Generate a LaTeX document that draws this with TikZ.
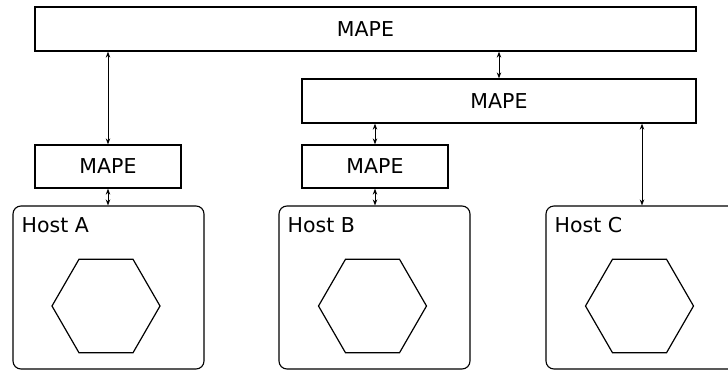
\documentclass[tikz,border=0pt]{standalone}
\usepackage{fontspec}
\setmainfont{DejaVu Sans}
\usetikzlibrary{shapes.geometric,arrows.meta}
\begin{document}
\begin{tikzpicture}[x=1pt,y=-1pt,
  font=\fontsize{20.5}{24}\selectfont,
  mape/.style={draw,line width=1.3pt,inner sep=0pt,minimum height=44pt},
  host/.style={draw,line width=1.1pt,rounded corners=8pt,inner sep=0pt,
    minimum width=191pt,minimum height=163pt},
  hex/.style={draw,line width=1.2pt,regular polygon,regular polygon sides=6,
    inner sep=0pt,minimum size=108pt},
  hostlabel/.style={anchor=base west,inner sep=0pt},
  link/.style={line width=0.9pt,{Stealth[length=6pt,width=4.5pt]}-{Stealth[length=6pt,width=4.5pt]}}]
\clip (0,0) rectangle (728,370);

% MAPE loops
\node[mape,minimum width=661pt] (top) at (365.5,29) {MAPE};
\node[mape,minimum width=394pt] (mid) at (499,101) {MAPE};
\node[mape,minimum width=146pt,minimum height=43pt] (mA) at (108,166.5) {MAPE};
\node[mape,minimum width=146pt,minimum height=43pt] (mB) at (375,166.5) {MAPE};

% managed hosts
\node[host] (hostA) at (108.5,287.5) {};
\node[host] (hostB) at (374.5,287.5) {};
\node[host] (hostC) at (641.5,287.5) {};
\node[hostlabel] (labA) at ([shift={(9,27)}]hostA.north west) {Host A};
\node[hostlabel] (labB) at ([shift={(9,27)}]hostB.north west) {Host B};
\node[hostlabel] (labC) at ([shift={(9,27)}]hostC.north west) {Host C};
\node[hex] (hexA) at (106,306) {};
\node[hex] (hexB) at (372.5,306) {};
\node[hex] (hexC) at (639.5,306) {};

% links
\draw[link] (mA.north) -- (mA.north |- top.south);
\draw[link] (mid.north) -- (mid.north |- top.south);
\draw[link] (mB.north) -- (mB.north |- mid.south);
\draw[link] (mA.south) -- (mA.south |- hostA.north);
\draw[link] (mB.south) -- (mB.south |- hostB.north);
\draw[link] ([xshift=0.5pt]hostC.north) -- ([xshift=0.5pt]hostC.north |- mid.south);
\end{tikzpicture}
\end{document}
